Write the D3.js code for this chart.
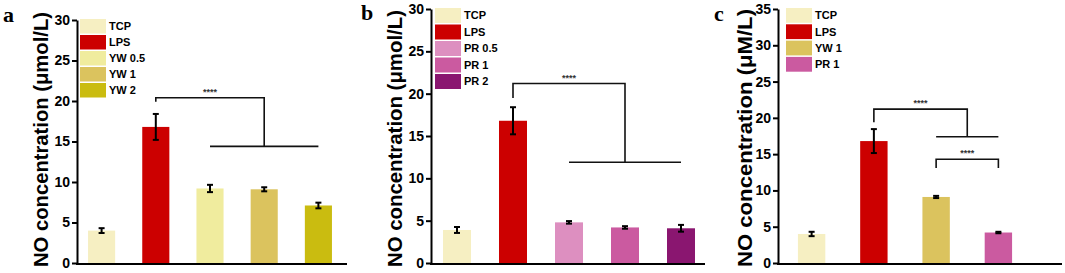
<!DOCTYPE html>
<html><head><meta charset="utf-8">
<script src="https://cdn.jsdelivr.net/npm/d3@7"></script>
<style>body{margin:0;background:#fff}svg{display:block}</style>
</head><body>
<svg id="chart" width="1065" height="273"></svg>
<script>
// ---- data ----
const catsA = ["TCP", "LPS", "YW 0.5", "YW 1", "YW 2"];
const valsA = [4.0, 16.8, 9.2, 9.1, 7.1];
const errsA = [0.3, 1.6, 0.45, 0.25, 0.35];

const catsB = ["TCP", "LPS", "PR 0.5", "PR 1", "PR 2"];
const valsB = [3.9, 16.8, 4.8, 4.2, 4.1];
const errsB = [0.35, 1.6, 0.15, 0.15, 0.4];

const catsC = ["TCP", "LPS", "YW 1", "PR 1"];
const valsC = [4.0, 16.8, 9.1, 4.2];
const errsC = [0.3, 1.65, 0.15, 0.1];

const ticksAB = [0, 5, 10, 15, 20, 25, 30];
const ticksC = [0, 5, 10, 15, 20, 25, 30, 35];

// significance brackets (values in data units)
const bracketA = {top: 20.4, left: 19.9, group: 14.4, label: "****"};
const bracketB = {top: 21.2, left: 19.5, group: 11.9, label: "****"};
const bracketC1 = {top: 21.2, left: 19.4, group: 17.4, label: "****"};
const bracketC2 = {top: 14.3, ends: 13.1, label: "****"};

// ---- styles ----
const colorsA = ["#f6efc2", "#cc0000", "#f0ec9e", "#dbc35e", "#cabc10"];
const colorsB = ["#f6efc2", "#cc0000", "#dd8fc0", "#cb5aa0", "#8a1670"];
const colorsC = ["#f6efc2", "#cc0000", "#dbc35e", "#cb5aa0"];

const svg = d3.select("#chart");
const FONT = "'Liberation Sans', Arial, sans-serif";

function panel(o) {
  const g = svg.append("g");
  const y = d3.scaleLinear().domain([0, o.ymax]).range([o.y0, o.y1]);
  const x = d3.scaleBand().domain(o.cats).range(o.xr)
    .paddingInner(o.pi).paddingOuter(o.po);
  const cx = c => x(c) + x.bandwidth() / 2;

  // bars
  g.selectAll("rect.bar").data(o.cats).enter().append("rect")
    .attr("x", d => x(d)).attr("width", x.bandwidth())
    .attr("y", (d, i) => y(o.vals[i]))
    .attr("height", (d, i) => y(0) - y(o.vals[i]))
    .attr("fill", (d, i) => o.colors[i]);

  // error bars
  const eb = g.selectAll("g.err").data(o.cats).enter().append("g")
    .attr("stroke", "#000").attr("stroke-width", 2);
  eb.append("line").attr("x1", d => cx(d)).attr("x2", d => cx(d))
    .attr("y1", (d, i) => y(o.vals[i] + o.errs[i]))
    .attr("y2", (d, i) => y(o.vals[i] - o.errs[i]));
  [1, -1].forEach(s => {
    eb.append("line").attr("x1", d => cx(d) - 3).attr("x2", d => cx(d) + 3)
      .attr("y1", (d, i) => y(o.vals[i] + s * o.errs[i]))
      .attr("y2", (d, i) => y(o.vals[i] + s * o.errs[i]));
  });

  // y axis
  const ax = g.append("g").attr("transform", `translate(${o.ax},0)`)
    .call(d3.axisLeft(y).tickValues(o.ticks).tickSize(5).tickPadding(2).tickSizeOuter(0));
  ax.select(".domain").attr("stroke", "#000").attr("stroke-width", 2);
  ax.selectAll(".tick line").attr("stroke", "#000").attr("stroke-width", 2);
  ax.selectAll(".tick text").attr("fill", "#000")
    .style("font", `bold 14px ${FONT}`);

  // x axis line
  g.append("line").attr("x1", o.ax - 1).attr("x2", o.axEnd)
    .attr("y1", y(0) + 1).attr("y2", y(0) + 1)
    .attr("stroke", "#000").attr("stroke-width", 2);

  // y title
  g.append("text")
    .attr("transform", `translate(${o.titleX},${o.titleY}) rotate(-90)`)
    .attr("text-anchor", "middle").attr("dy", "0.35em")
    .attr("textLength", o.titleLen).attr("lengthAdjust", "spacingAndGlyphs")
    .style("font", `bold 20px ${FONT}`).attr("fill", "#000")
    .text(o.title);

  // panel letter
  g.append("text").attr("x", o.letterX).attr("y", o.letterY)
    .style("font", "bold 22px 'Liberation Serif', 'Times New Roman', serif")
    .attr("fill", "#000").text(o.letter);

  // legend
  const lg = g.selectAll("g.leg").data(o.cats).enter().append("g")
    .attr("transform", (d, i) => `translate(${o.legX},${o.legY + i * o.legStep})`);
  lg.append("rect").attr("width", 26).attr("height", o.legStep - 1.5)
    .attr("fill", (d, i) => o.colors[i]);
  lg.append("text").attr("x", 29).attr("y", (o.legStep - 1.5) / 2).attr("dy", "0.36em")
    .style("font", `bold 11px ${FONT}`).attr("fill", "#000").text(d => d);

  return {g, x, y, cx};
}

function groupBracket(p, b, from, g1, g2, dropX) {
  const path = d3.path();
  const xl = p.cx(from);
  path.moveTo(xl, p.y(b.left));
  path.lineTo(xl, p.y(b.top));
  path.lineTo(dropX, p.y(b.top));
  path.lineTo(dropX, p.y(b.group));
  path.moveTo(p.cx(g1), p.y(b.group));
  path.lineTo(p.cx(g2), p.y(b.group));
  p.g.append("path").attr("d", path.toString()).attr("fill", "none")
    .attr("stroke", "#111").attr("stroke-width", 1.6);
  p.g.append("text").attr("x", (xl + dropX) / 2).attr("y", p.y(b.top) - 3)
    .attr("text-anchor", "middle")
    .style("font", `bold 9px ${FONT}`).attr("fill", "#333").text(b.label);
}

function simpleBracket(p, b, c1, c2) {
  const path = d3.path();
  path.moveTo(p.cx(c1), p.y(b.ends));
  path.lineTo(p.cx(c1), p.y(b.top));
  path.lineTo(p.cx(c2), p.y(b.top));
  path.lineTo(p.cx(c2), p.y(b.ends));
  p.g.append("path").attr("d", path.toString()).attr("fill", "none")
    .attr("stroke", "#111").attr("stroke-width", 1.6);
  p.g.append("text").attr("x", (p.cx(c1) + p.cx(c2)) / 2).attr("y", p.y(b.top) - 3)
    .attr("text-anchor", "middle")
    .style("font", `bold 9px ${FONT}`).attr("fill", "#333").text(b.label);
}

const pA = panel({cats: catsA, vals: valsA, errs: errsA, colors: colorsA, ticks: ticksAB,
  ymax: 30, y0: 263, y1: 20, xr: [74.5, 345.5], pi: 0.5, po: 0.25, ax: 77, axEnd: 347,
  title: "NO concentration (μmol/L)", titleX: 41, titleY: 139.5, titleLen: 255,
  letter: "a", letterX: 3, letterY: 22,
  legX: 80, legY: 19, legStep: 16});
groupBracket(pA, bracketA, "LPS", "YW 0.5", "YW 2", pA.cx("YW 1"));

const pB = panel({cats: catsB, vals: valsB, errs: errsB, colors: colorsB, ticks: ticksAB,
  ymax: 30, y0: 263, y1: 9, xr: [429, 709], pi: 0.5, po: 0.25, ax: 431, axEnd: 705,
  title: "NO concentration (μmol/L)", titleX: 395, titleY: 138.5, titleLen: 257,
  letter: "b", letterX: 361, letterY: 20,
  legX: 435, legY: 8, legStep: 16.5});
groupBracket(pB, bracketB, "LPS", "PR 0.5", "PR 2", pB.cx("PR 1"));

const pC = panel({cats: catsC, vals: valsC, errs: errsC, colors: colorsC, ticks: ticksC,
  ymax: 35, y0: 263, y1: 9, xr: [778, 1032], pi: 0.56, po: 0.32, ax: 778, axEnd: 1062,
  title: "NO concentration (μM/L)", titleX: 745, titleY: 138, titleLen: 258,
  letter: "c", letterX: 714, letterY: 21,
  legX: 786, legY: 8, legStep: 16.3});
groupBracket(pC, bracketC1, "LPS", "YW 1", "PR 1", (pC.cx("YW 1") + pC.cx("PR 1")) / 2);
simpleBracket(pC, bracketC2, "YW 1", "PR 1");
</script>
</body></html>
